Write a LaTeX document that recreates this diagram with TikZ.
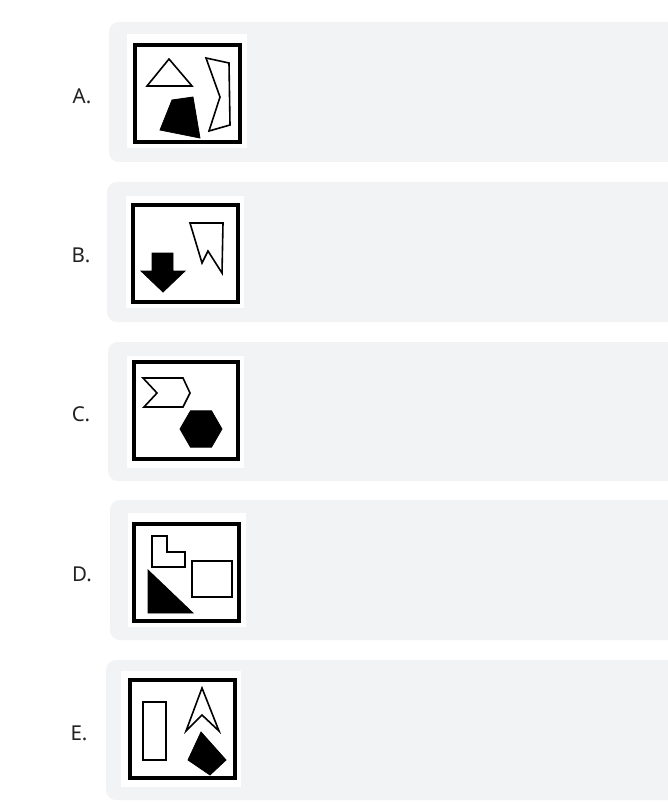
\documentclass[tikz,border=0pt]{standalone}
\usepackage{fontspec}
\setmainfont{Noto Sans}
\usetikzlibrary{positioning}
\definecolor{PanelGrey}{HTML}{F2F3F5}
\definecolor{LabelInk}{HTML}{222222}
\tikzset{
  panel/.style={fill=PanelGrey, rounded corners=10pt},
  thumb/.style={fill=white},
  frame/.style={draw=black, line width=3.6pt},
  outline/.style={draw=black, line width=1.6pt, line join=miter, fill=white},
  solid shape/.style={fill=black, draw=black, line width=0.8pt},
  optlabel/.style={font=\fontsize{20.5}{24}\selectfont, text=LabelInk, anchor=center, inner sep=0pt}
}
\begin{document}
\begin{tikzpicture}[x=1pt, y=-1pt]
  \useasboundingbox[fill=white] (0,0) rectangle (667,810);
  % answer panels
  \foreach \px/\top/\bot in {109/22/162, 107/182/322, 108/342/481, 110/500/640, 106/660/800}
    \fill[panel] (\px,\top) rectangle (680,\bot);
  % option labels
  \node[optlabel] (labA) at (82,96) {A.};
  \node[optlabel] (labB) at (81,255) {B.};
  \node[optlabel] (labC) at (81,414) {C.};
  \node[optlabel] (labD) at (82,574) {D.};
  \node[optlabel] (labE) at (79,733) {E.};

  % A
  \fill[thumb] (127,34) rectangle (247,148);
  \draw[frame] (135,45) rectangle (240,142);
  \draw[outline] (169,59) -- (192,86) -- (147,86) -- cycle;
  \draw[outline] (206,58) -- (229,63) -- (230,125) -- (209,131) -- (220,97) -- cycle;
  \draw[solid shape] (172,100) -- (193,97) -- (200,138) -- (160,130) -- cycle;

  % B
  \fill[thumb] (126,196) rectangle (244,308);
  \draw[frame] (133,205) rectangle (238,302);
  \draw[solid shape] (152,253) -- (173,253) -- (173,271) -- (185,271) -- (163,292)
    -- (141,271) -- (152,271) -- cycle;
  \draw[outline] (190,223) -- (223,223) -- (222,273) -- (208,251) -- (202,263) -- cycle;

  % C
  \fill[thumb] (127,356) rectangle (244,468);
  \draw[frame] (134,362) rectangle (238,459);
  \draw[outline] (143,378) -- (183,378) -- (190,393) -- (183,407) -- (144,407) -- (157,393) -- cycle;
  \fill[solid shape] (201,429) ++(0:21) -- ++(120:21) -- ++(180:21) -- ++(240:21)
    -- ++(300:21) -- ++(0:21) -- cycle;

  % D
  \fill[thumb] (128,513) rectangle (246,627);
  \draw[frame] (134,524) rectangle (239,621);
  \draw[outline] (152,536) -- (167,536) -- (167,552) -- (185,552) -- (185,567) -- (152,567) -- cycle;
  \draw[outline] (192,561) rectangle (232,597);
  \draw[solid shape] (148,570) -- (148,613) -- (193,613) -- cycle;

  % E
  \fill[thumb] (121,671) rectangle (241,787);
  \draw[frame] (130,680) rectangle (235,778);
  \draw[outline] (143,702) rectangle (166,760);
  \draw[outline] (202,688) -- (219,731) -- (202,715) -- (186,731) -- cycle;
  \draw[solid shape] (201,732) -- (226,760) -- (210,775) -- (188,760) -- cycle;
\end{tikzpicture}
\end{document}
